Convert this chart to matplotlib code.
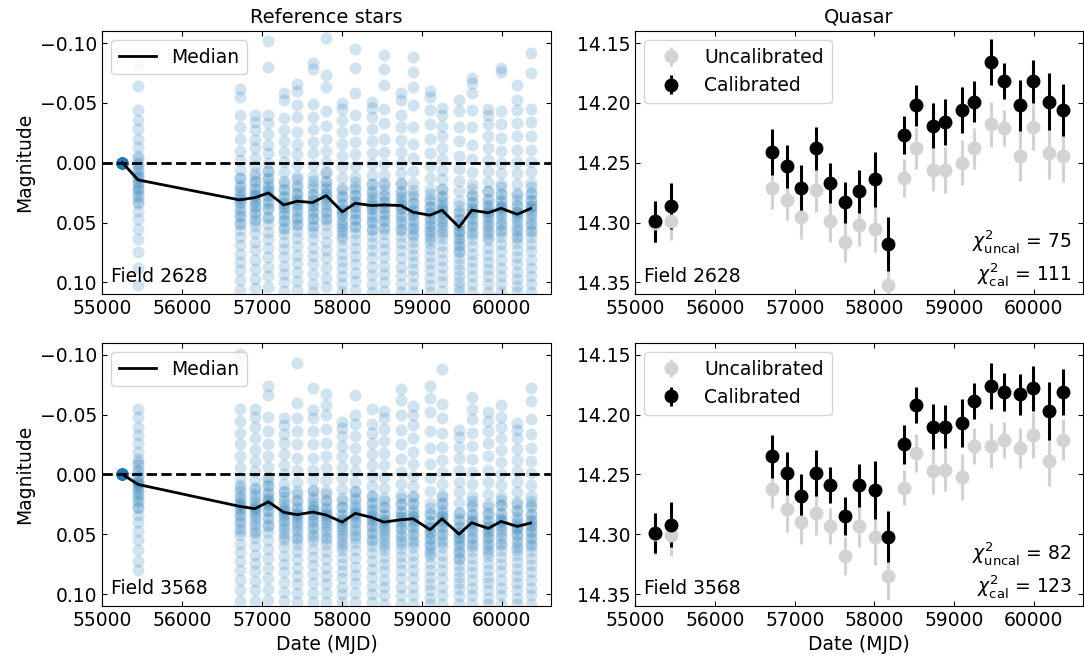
import matplotlib
matplotlib.use('Agg')
import matplotlib.pyplot as plt
import numpy as np

plt.rcParams['font.size'] = 13.5
plt.rcParams['xtick.direction'] = 'in'
plt.rcParams['ytick.direction'] = 'in'
plt.rcParams['xtick.top'] = True
plt.rcParams['ytick.right'] = True

# epochs (MJD)
mjd = [55250, 55446, 56717, 56908, 57079, 57271, 57438, 57633, 57804, 58004, 58167,
       58371, 58525, 58738, 58892, 59104, 59254, 59467, 59625, 59833, 59992, 60196, 60363]

fields = ['2628', '3568']

# median of reference stars
median_2628 = [0.0, 0.0144, 0.0311, 0.0292, 0.0253, 0.0353, 0.0322, 0.0333, 0.0275, 0.0411, 0.0339,
               0.0358, 0.0353, 0.0358, 0.0414, 0.0439, 0.0397, 0.0539, 0.0397, 0.0419, 0.0381, 0.0431, 0.0383]
median_3568 = [0.0, 0.0084, 0.0267, 0.0287, 0.0230, 0.0317, 0.0337, 0.0315, 0.0340, 0.0399, 0.0326,
               0.0360, 0.0399, 0.0379, 0.0371, 0.0463, 0.0371, 0.0500, 0.0404, 0.0452, 0.0393, 0.0435, 0.0407]

# reference star magnitudes, one row per epoch (full spread)
stars_2628 = [
    [0.0, 0.0, 0.0, 0.0, 0.0, 0.0, 0.0, 0.0, 0.0, 0.0, 0.0, 0.0, 0.0, 0.0, 0.0, 0.0, 0.0, 0.0, 0.0, 0.0, 0.0, 0.0, 0.0, 0.0],
    [-0.082, -0.064, -0.044, -0.036, -0.028, -0.020, -0.013, -0.006, 0.000, 0.005, 0.010, 0.013, 0.016, 0.020, 0.024, 0.029, 0.034, 0.040, 0.047, 0.055, 0.064, 0.075, 0.088, 0.102],
    [-0.062, -0.055, -0.040, -0.030, -0.020, -0.010, -0.002, 0.006, 0.013, 0.020, 0.026, 0.030, 0.033, 0.038, 0.044, 0.050, 0.056, 0.062, 0.069, 0.076, 0.083, 0.090, 0.098, 0.106],
    [-0.040, -0.034, -0.027, -0.019, -0.012, -0.004, 0.003, 0.009, 0.015, 0.021, 0.026, 0.028, 0.031, 0.036, 0.041, 0.047, 0.053, 0.059, 0.066, 0.073, 0.081, 0.089, 0.097, 0.105],
    [-0.102, -0.080, -0.040, -0.033, -0.024, -0.015, -0.008, 0.000, 0.007, 0.014, 0.020, 0.024, 0.027, 0.032, 0.038, 0.045, 0.051, 0.058, 0.064, 0.071, 0.079, 0.087, 0.095, 0.104],
    [-0.058, -0.052, -0.037, -0.027, -0.018, -0.009, -0.001, 0.008, 0.015, 0.022, 0.029, 0.034, 0.037, 0.042, 0.048, 0.054, 0.060, 0.066, 0.072, 0.079, 0.086, 0.093, 0.100, 0.107],
    [-0.066, -0.060, -0.048, -0.038, -0.026, -0.016, -0.007, 0.002, 0.011, 0.019, 0.026, 0.031, 0.034, 0.039, 0.045, 0.051, 0.057, 0.063, 0.070, 0.077, 0.084, 0.091, 0.099, 0.106],
    [-0.083, -0.078, -0.049, -0.038, -0.028, -0.017, -0.008, 0.002, 0.011, 0.019, 0.027, 0.032, 0.035, 0.040, 0.046, 0.052, 0.058, 0.064, 0.071, 0.078, 0.085, 0.093, 0.101, 0.108],
    [-0.104, -0.073, -0.063, -0.043, -0.031, -0.020, -0.010, -0.001, 0.008, 0.016, 0.022, 0.026, 0.029, 0.034, 0.040, 0.046, 0.052, 0.059, 0.066, 0.073, 0.080, 0.088, 0.096, 0.104],
    [-0.050, -0.045, -0.036, -0.026, -0.016, -0.006, 0.004, 0.013, 0.021, 0.028, 0.035, 0.040, 0.043, 0.048, 0.053, 0.058, 0.064, 0.070, 0.076, 0.082, 0.088, 0.095, 0.101, 0.108],
    [-0.095, -0.079, -0.058, -0.040, -0.028, -0.017, -0.007, 0.003, 0.012, 0.020, 0.027, 0.033, 0.036, 0.041, 0.047, 0.053, 0.059, 0.065, 0.071, 0.078, 0.085, 0.092, 0.099, 0.106],
    [-0.051, -0.046, -0.038, -0.028, -0.018, -0.008, 0.001, 0.010, 0.018, 0.025, 0.031, 0.035, 0.038, 0.043, 0.049, 0.055, 0.061, 0.067, 0.073, 0.080, 0.087, 0.094, 0.101, 0.108],
    [-0.090, -0.078, -0.065, -0.045, -0.033, -0.020, -0.009, 0.001, 0.010, 0.019, 0.027, 0.033, 0.037, 0.042, 0.048, 0.054, 0.060, 0.066, 0.072, 0.079, 0.086, 0.093, 0.100, 0.107],
    [-0.058, -0.052, -0.040, -0.030, -0.019, -0.009, 0.000, 0.009, 0.017, 0.025, 0.031, 0.035, 0.038, 0.043, 0.049, 0.055, 0.061, 0.067, 0.073, 0.080, 0.087, 0.094, 0.101, 0.108],
    [-0.088, -0.076, -0.063, -0.048, -0.030, -0.016, -0.004, 0.007, 0.017, 0.026, 0.034, 0.040, 0.043, 0.048, 0.054, 0.060, 0.066, 0.071, 0.077, 0.083, 0.089, 0.095, 0.101, 0.108],
    [-0.060, -0.055, -0.044, -0.032, -0.020, -0.008, 0.003, 0.013, 0.022, 0.030, 0.037, 0.042, 0.046, 0.051, 0.056, 0.061, 0.067, 0.072, 0.078, 0.084, 0.090, 0.096, 0.102, 0.108],
    [-0.046, -0.040, -0.031, -0.022, -0.012, -0.003, 0.006, 0.014, 0.022, 0.029, 0.035, 0.039, 0.041, 0.046, 0.051, 0.057, 0.063, 0.069, 0.075, 0.081, 0.087, 0.094, 0.100, 0.107],
    [-0.052, -0.043, -0.030, -0.018, -0.006, 0.005, 0.015, 0.024, 0.032, 0.040, 0.047, 0.052, 0.056, 0.060, 0.065, 0.070, 0.075, 0.080, 0.085, 0.090, 0.095, 0.100, 0.104, 0.108],
    [-0.071, -0.067, -0.058, -0.044, -0.030, -0.015, -0.003, 0.008, 0.018, 0.027, 0.034, 0.039, 0.041, 0.046, 0.052, 0.058, 0.064, 0.070, 0.076, 0.082, 0.088, 0.095, 0.101, 0.108],
    [-0.045, -0.040, -0.032, -0.022, -0.012, -0.002, 0.007, 0.016, 0.024, 0.031, 0.037, 0.041, 0.043, 0.048, 0.053, 0.059, 0.065, 0.071, 0.077, 0.083, 0.089, 0.095, 0.101, 0.108],
    [-0.079, -0.076, -0.043, -0.032, -0.021, -0.010, 0.000, 0.009, 0.018, 0.026, 0.033, 0.037, 0.039, 0.044, 0.050, 0.056, 0.062, 0.068, 0.074, 0.081, 0.088, 0.095, 0.101, 0.108],
    [-0.065, -0.052, -0.044, -0.033, -0.022, -0.011, -0.001, 0.009, 0.018, 0.027, 0.035, 0.041, 0.044, 0.049, 0.055, 0.061, 0.067, 0.073, 0.079, 0.085, 0.091, 0.097, 0.103, 0.108],
    [-0.092, -0.075, -0.045, -0.034, -0.022, -0.011, -0.001, 0.008, 0.017, 0.025, 0.032, 0.036, 0.039, 0.044, 0.050, 0.056, 0.062, 0.068, 0.074, 0.081, 0.088, 0.095, 0.101, 0.108],
]

# stars near the median, one row per epoch
core_2628 = [
    [0.0, 0.0, 0.0, 0.0, 0.0, 0.0, 0.0, 0.0],
    [-0.004, 0.002, 0.007, 0.012, 0.017, 0.022, 0.027, 0.033],
    [0.013, 0.019, 0.024, 0.029, 0.034, 0.040, 0.045, 0.051],
    [0.011, 0.016, 0.022, 0.027, 0.033, 0.037, 0.043, 0.049],
    [0.007, 0.013, 0.018, 0.023, 0.028, 0.034, 0.039, 0.046],
    [0.017, 0.023, 0.028, 0.034, 0.038, 0.044, 0.049, 0.055],
    [0.014, 0.020, 0.025, 0.030, 0.035, 0.041, 0.047, 0.052],
    [0.015, 0.021, 0.026, 0.031, 0.036, 0.042, 0.047, 0.054],
    [0.009, 0.015, 0.020, 0.026, 0.031, 0.036, 0.042, 0.048],
    [0.023, 0.029, 0.034, 0.039, 0.044, 0.050, 0.055, 0.061],
    [0.016, 0.022, 0.027, 0.032, 0.037, 0.043, 0.048, 0.054],
    [0.018, 0.024, 0.029, 0.034, 0.039, 0.045, 0.050, 0.056],
    [0.017, 0.023, 0.028, 0.033, 0.038, 0.044, 0.049, 0.055],
    [0.018, 0.024, 0.029, 0.034, 0.039, 0.045, 0.051, 0.056],
    [0.023, 0.029, 0.034, 0.039, 0.044, 0.050, 0.055, 0.061],
    [0.026, 0.032, 0.037, 0.042, 0.047, 0.053, 0.058, 0.064],
    [0.022, 0.028, 0.033, 0.038, 0.043, 0.049, 0.054, 0.060],
    [0.036, 0.042, 0.047, 0.052, 0.057, 0.063, 0.068, 0.074],
    [0.022, 0.028, 0.033, 0.038, 0.043, 0.049, 0.054, 0.060],
    [0.024, 0.030, 0.035, 0.040, 0.045, 0.051, 0.056, 0.062],
    [0.020, 0.026, 0.031, 0.036, 0.041, 0.047, 0.052, 0.058],
    [0.025, 0.031, 0.036, 0.041, 0.046, 0.052, 0.057, 0.063],
    [0.020, 0.026, 0.031, 0.036, 0.041, 0.047, 0.052, 0.058],
]

stars_3568 = [
    [0.0, 0.0, 0.0, 0.0, 0.0, 0.0, 0.0, 0.0, 0.0, 0.0, 0.0, 0.0, 0.0, 0.0, 0.0, 0.0, 0.0, 0.0, 0.0, 0.0, 0.0, 0.0, 0.0, 0.0],
    [-0.055, -0.048, -0.040, -0.033, -0.026, -0.019, -0.013, -0.008, -0.003, 0.002, 0.006, 0.008, 0.010, 0.014, 0.018, 0.023, 0.028, 0.034, 0.040, 0.047, 0.055, 0.063, 0.072, 0.080],
    [-0.101, -0.055, -0.045, -0.035, -0.025, -0.015, -0.006, 0.003, 0.011, 0.018, 0.023, 0.026, 0.028, 0.033, 0.039, 0.045, 0.051, 0.058, 0.065, 0.072, 0.080, 0.088, 0.097, 0.106],
    [-0.055, -0.048, -0.040, -0.030, -0.020, -0.011, -0.003, 0.005, 0.012, 0.019, 0.025, 0.028, 0.030, 0.035, 0.041, 0.047, 0.053, 0.060, 0.067, 0.074, 0.081, 0.089, 0.097, 0.106],
    [-0.074, -0.066, -0.048, -0.036, -0.025, -0.015, -0.006, 0.002, 0.009, 0.015, 0.020, 0.022, 0.025, 0.030, 0.036, 0.042, 0.048, 0.055, 0.062, 0.070, 0.078, 0.087, 0.096, 0.105],
    [-0.047, -0.041, -0.034, -0.026, -0.017, -0.008, 0.000, 0.008, 0.015, 0.022, 0.028, 0.031, 0.033, 0.038, 0.043, 0.049, 0.055, 0.061, 0.068, 0.075, 0.082, 0.090, 0.098, 0.106],
    [-0.093, -0.060, -0.047, -0.036, -0.025, -0.014, -0.004, 0.006, 0.014, 0.022, 0.029, 0.033, 0.035, 0.040, 0.046, 0.052, 0.058, 0.064, 0.071, 0.078, 0.085, 0.092, 0.099, 0.107],
    [-0.072, -0.054, -0.047, -0.036, -0.025, -0.014, -0.004, 0.005, 0.013, 0.021, 0.027, 0.030, 0.033, 0.038, 0.044, 0.050, 0.056, 0.062, 0.069, 0.076, 0.083, 0.091, 0.099, 0.107],
    [-0.067, -0.058, -0.050, -0.038, -0.026, -0.015, -0.005, 0.005, 0.014, 0.022, 0.029, 0.033, 0.035, 0.040, 0.046, 0.052, 0.058, 0.064, 0.071, 0.078, 0.085, 0.092, 0.099, 0.107],
    [-0.044, -0.039, -0.032, -0.024, -0.015, -0.006, 0.003, 0.012, 0.020, 0.027, 0.034, 0.038, 0.041, 0.046, 0.051, 0.057, 0.063, 0.069, 0.075, 0.081, 0.087, 0.094, 0.100, 0.107],
    [-0.066, -0.050, -0.042, -0.032, -0.022, -0.012, -0.003, 0.006, 0.014, 0.021, 0.028, 0.032, 0.034, 0.039, 0.045, 0.051, 0.057, 0.063, 0.070, 0.077, 0.084, 0.091, 0.099, 0.107],
    [-0.055, -0.042, -0.035, -0.026, -0.017, -0.008, 0.001, 0.010, 0.018, 0.025, 0.031, 0.035, 0.037, 0.042, 0.048, 0.054, 0.060, 0.066, 0.072, 0.079, 0.086, 0.093, 0.100, 0.107],
    [-0.053, -0.047, -0.038, -0.028, -0.018, -0.008, 0.002, 0.011, 0.020, 0.027, 0.034, 0.038, 0.041, 0.046, 0.051, 0.057, 0.063, 0.069, 0.075, 0.081, 0.088, 0.094, 0.101, 0.108],
    [-0.071, -0.062, -0.050, -0.037, -0.025, -0.013, -0.002, 0.008, 0.017, 0.025, 0.032, 0.036, 0.039, 0.044, 0.050, 0.056, 0.062, 0.068, 0.074, 0.080, 0.087, 0.094, 0.101, 0.108],
    [-0.057, -0.050, -0.041, -0.030, -0.019, -0.009, 0.001, 0.010, 0.018, 0.025, 0.032, 0.036, 0.038, 0.043, 0.049, 0.055, 0.061, 0.067, 0.073, 0.080, 0.087, 0.094, 0.101, 0.108],
    [-0.074, -0.064, -0.052, -0.036, -0.022, -0.009, 0.003, 0.014, 0.024, 0.033, 0.040, 0.045, 0.048, 0.053, 0.058, 0.063, 0.068, 0.074, 0.080, 0.086, 0.092, 0.097, 0.103, 0.108],
    [-0.088, -0.059, -0.047, -0.035, -0.023, -0.012, -0.002, 0.008, 0.017, 0.025, 0.032, 0.036, 0.038, 0.043, 0.049, 0.055, 0.061, 0.067, 0.073, 0.080, 0.087, 0.094, 0.101, 0.108],
    [-0.037, -0.031, -0.023, -0.014, -0.004, 0.006, 0.015, 0.024, 0.032, 0.039, 0.045, 0.049, 0.052, 0.056, 0.061, 0.066, 0.071, 0.076, 0.081, 0.086, 0.091, 0.096, 0.102, 0.108],
    [-0.065, -0.055, -0.046, -0.035, -0.024, -0.013, -0.002, 0.008, 0.018, 0.026, 0.034, 0.039, 0.041, 0.046, 0.052, 0.058, 0.064, 0.070, 0.076, 0.082, 0.088, 0.095, 0.101, 0.108],
    [-0.052, -0.045, -0.036, -0.026, -0.015, -0.004, 0.006, 0.016, 0.025, 0.033, 0.040, 0.044, 0.047, 0.052, 0.057, 0.062, 0.068, 0.074, 0.080, 0.086, 0.091, 0.097, 0.103, 0.108],
    [-0.058, -0.048, -0.040, -0.030, -0.020, -0.010, 0.000, 0.009, 0.018, 0.026, 0.033, 0.038, 0.040, 0.045, 0.051, 0.057, 0.063, 0.069, 0.075, 0.081, 0.088, 0.095, 0.101, 0.108],
    [-0.043, -0.037, -0.030, -0.021, -0.012, -0.003, 0.006, 0.015, 0.023, 0.031, 0.038, 0.043, 0.045, 0.050, 0.055, 0.061, 0.067, 0.073, 0.079, 0.085, 0.091, 0.097, 0.103, 0.108],
    [-0.072, -0.061, -0.046, -0.034, -0.022, -0.011, -0.001, 0.009, 0.018, 0.026, 0.034, 0.039, 0.042, 0.047, 0.052, 0.058, 0.064, 0.070, 0.076, 0.082, 0.088, 0.095, 0.101, 0.108],
]

core_3568 = [
    [0.0, 0.0, 0.0, 0.0, 0.0, 0.0, 0.0, 0.0],
    [-0.010, -0.004, 0.001, 0.006, 0.011, 0.016, 0.021, 0.027],
    [0.009, 0.014, 0.020, 0.025, 0.030, 0.035, 0.041, 0.047],
    [0.011, 0.016, 0.022, 0.027, 0.032, 0.037, 0.043, 0.049],
    [0.005, 0.010, 0.016, 0.021, 0.026, 0.031, 0.037, 0.043],
    [0.014, 0.019, 0.025, 0.030, 0.035, 0.040, 0.046, 0.052],
    [0.016, 0.021, 0.027, 0.032, 0.037, 0.042, 0.048, 0.054],
    [0.014, 0.019, 0.025, 0.030, 0.035, 0.040, 0.046, 0.052],
    [0.016, 0.021, 0.027, 0.032, 0.037, 0.042, 0.048, 0.054],
    [0.022, 0.027, 0.033, 0.038, 0.043, 0.048, 0.054, 0.060],
    [0.015, 0.020, 0.026, 0.031, 0.036, 0.041, 0.047, 0.053],
    [0.018, 0.023, 0.029, 0.034, 0.039, 0.044, 0.050, 0.056],
    [0.022, 0.027, 0.033, 0.038, 0.043, 0.048, 0.054, 0.060],
    [0.020, 0.025, 0.031, 0.036, 0.041, 0.046, 0.052, 0.058],
    [0.019, 0.024, 0.030, 0.035, 0.040, 0.045, 0.051, 0.057],
    [0.028, 0.033, 0.039, 0.044, 0.049, 0.054, 0.060, 0.066],
    [0.019, 0.024, 0.030, 0.035, 0.040, 0.045, 0.051, 0.057],
    [0.032, 0.037, 0.043, 0.048, 0.053, 0.058, 0.064, 0.070],
    [0.022, 0.027, 0.033, 0.038, 0.043, 0.048, 0.054, 0.060],
    [0.027, 0.032, 0.038, 0.043, 0.048, 0.053, 0.059, 0.065],
    [0.021, 0.026, 0.032, 0.037, 0.042, 0.047, 0.053, 0.059],
    [0.025, 0.030, 0.036, 0.041, 0.046, 0.051, 0.057, 0.063],
    [0.022, 0.027, 0.033, 0.038, 0.043, 0.048, 0.054, 0.060],
]

# quasar light curve, field 2628
uncal_2628 = [14.300, 14.299, 14.271, 14.281, 14.295, 14.273, 14.299, 14.316, 14.302, 14.305, 14.352,
              14.263, 14.238, 14.256, 14.256, 14.250, 14.238, 14.218, 14.221, 14.244, 14.220, 14.242, 14.244]
uncal_err_2628 = [0.017, 0.016, 0.018, 0.017, 0.019, 0.018, 0.017, 0.017, 0.018, 0.020, 0.020,
                  0.016, 0.017, 0.018, 0.019, 0.019, 0.017, 0.019, 0.015, 0.021, 0.019, 0.022, 0.022]
cal_2628 = [14.299, 14.286, 14.241, 14.253, 14.271, 14.238, 14.267, 14.283, 14.274, 14.264, 14.318,
            14.227, 14.202, 14.219, 14.216, 14.206, 14.199, 14.166, 14.182, 14.202, 14.182, 14.199, 14.206]
cal_err_2628 = [0.017, 0.019, 0.019, 0.018, 0.019, 0.018, 0.017, 0.017, 0.018, 0.023, 0.0225,
                0.016, 0.017, 0.019, 0.019, 0.019, 0.017, 0.019, 0.015, 0.0215, 0.018, 0.024, 0.022]

# quasar light curve, field 3568
uncal_3568 = [14.300, 14.301, 14.262, 14.279, 14.290, 14.282, 14.293, 14.318, 14.293, 14.302, 14.335,
              14.261, 14.232, 14.247, 14.246, 14.252, 14.226, 14.226, 14.221, 14.228, 14.217, 14.239, 14.221]
uncal_err_3568 = [0.017, 0.017, 0.016, 0.019, 0.018, 0.019, 0.015, 0.016, 0.018, 0.024, 0.020,
                  0.015, 0.016, 0.019, 0.018, 0.019, 0.015, 0.019, 0.015, 0.017, 0.019, 0.021, 0.017]
cal_3568 = [14.299, 14.292, 14.235, 14.249, 14.268, 14.249, 14.259, 14.285, 14.259, 14.263, 14.302,
            14.225, 14.192, 14.210, 14.210, 14.207, 14.189, 14.176, 14.181, 14.183, 14.178, 14.197, 14.181]
cal_err_3568 = [0.017, 0.019, 0.018, 0.018, 0.018, 0.019, 0.015, 0.016, 0.018, 0.024, 0.021,
                0.016, 0.015, 0.019, 0.018, 0.020, 0.015, 0.019, 0.016, 0.017, 0.019, 0.024, 0.019]

chi2_uncal = [75, 82]
chi2_cal = [111, 123]

stars = [stars_2628, stars_3568]
cores = [core_2628, core_3568]
medians = [median_2628, median_3568]
uncal = [uncal_2628, uncal_3568]
uncal_err = [uncal_err_2628, uncal_err_3568]
cal = [cal_2628, cal_3568]
cal_err = [cal_err_2628, cal_err_3568]

fig = plt.figure(figsize=(10.84, 6.63), dpi=100)
rows_y = [0.5561, 0.0860]

for i, field in enumerate(fields):
    # reference stars
    ax = fig.add_axes([0.0941, rows_y[i], 0.4142, 0.397])
    for t, vals, core in zip(mjd, stars[i], cores[i]):
        allv = vals + core
        ax.scatter(np.full(len(allv), t), allv, s=75, color='C0', alpha=0.2, lw=0)
    ax.axhline(0, color='k', ls='--', lw=2, zorder=3)
    ax.plot(mjd, medians[i], color='k', lw=2, label='Median', zorder=4)
    ax.set_ylim(0.11, -0.11)
    ax.set_yticks([-0.10, -0.05, 0.00, 0.05, 0.10])
    ax.set_xticks([55000, 56000, 57000, 58000, 59000, 60000])
    ax.set_ylabel('Magnitude')
    ax.legend(loc='upper left')
    ax.text(0.02, 0.03, f'Field {field}', transform=ax.transAxes, ha='left', va='bottom')
    if i == 0:
        ax.set_title('Reference stars', fontsize=14)
    else:
        ax.set_xlabel('Date (MJD)')

    # quasar
    ax2 = fig.add_axes([0.5858, rows_y[i], 0.4133, 0.397])
    ax2.errorbar(mjd, uncal[i], yerr=uncal_err[i], fmt='o', color='lightgray', ms=9,
                 elinewidth=2.2, label='Uncalibrated')
    ax2.errorbar(mjd, cal[i], yerr=cal_err[i], fmt='o', color='k', ms=9,
                 elinewidth=2.2, label='Calibrated')
    ax2.set_ylim(14.36, 14.14)
    ax2.set_yticks([14.15, 14.20, 14.25, 14.30, 14.35])
    ax2.set_xticks([55000, 56000, 57000, 58000, 59000, 60000])
    ax2.set_xlim(ax.get_xlim())
    ax2.legend(loc='upper left')
    ax2.text(0.02, 0.03, f'Field {field}', transform=ax2.transAxes, ha='left', va='bottom')
    ax2.text(0.975, 0.176, r'$\chi^2_{\rm uncal}$ = ' + str(chi2_uncal[i]), transform=ax2.transAxes,
             ha='right', va='baseline')
    ax2.text(0.975, 0.053, r'$\chi^2_{\rm cal}$ = ' + str(chi2_cal[i]), transform=ax2.transAxes,
             ha='right', va='baseline')
    if i == 0:
        ax2.set_title('Quasar', fontsize=14)
    else:
        ax2.set_xlabel('Date (MJD)')

fig.savefig('out.png', dpi=100)
